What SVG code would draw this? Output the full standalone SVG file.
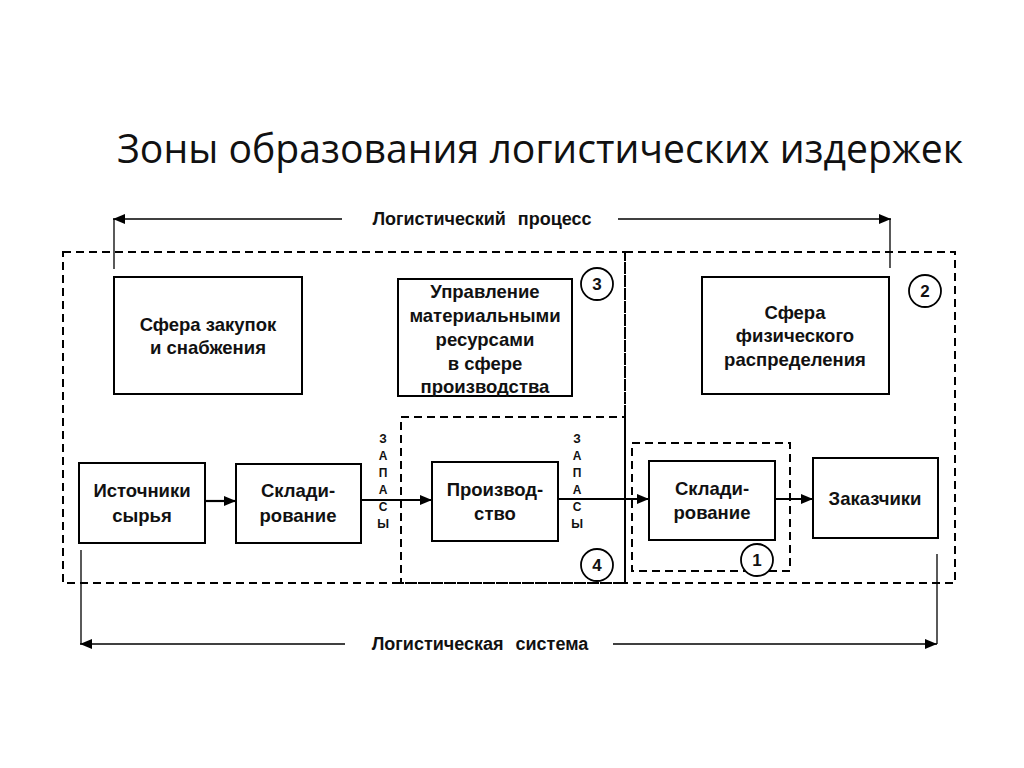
<svg xmlns="http://www.w3.org/2000/svg" width="1024" height="768" viewBox="0 0 1024 768">
<defs>
<marker id="ah" viewBox="0 0 12 10" refX="12" refY="5" markerWidth="12" markerHeight="10" markerUnits="userSpaceOnUse" orient="auto">
<path d="M0,0 L12,5 L0,10 Z" fill="#000"/>
</marker>
<style>
.box{fill:#fff;stroke:#000;stroke-width:2}
.zone{fill:none;stroke:#000;stroke-width:2;stroke-dasharray:8 5}
.lbl{font-family:"Liberation Sans",Arial,sans-serif;font-weight:bold;font-size:18.5px;fill:#111;text-anchor:middle}
.cap{font-family:"Liberation Sans",Arial,sans-serif;font-weight:bold;font-size:18px;fill:#111;text-anchor:middle;word-spacing:7px}
.zap{font-family:"Liberation Sans",Arial,sans-serif;font-weight:bold;font-size:12px;fill:#111;text-anchor:middle}
.num{font-family:"Liberation Sans",Arial,sans-serif;font-weight:bold;font-size:17px;fill:#111;text-anchor:middle}
.ln{fill:none;stroke:#000;stroke-width:1.3}
.fl{fill:none;stroke:#000;stroke-width:2.2}
.circ{fill:#fff;stroke:#000;stroke-width:1.8}
</style>
</defs>
<rect width="1024" height="768" fill="#fff"/>
<text x="540" y="163" font-family="'Open Sans','Liberation Sans',sans-serif" font-size="41" fill="#111" text-anchor="middle" textLength="846" lengthAdjust="spacingAndGlyphs">Зоны образования логистических издержек</text>

<g id="zones">
<rect id="zone3" class="zone" x="63" y="252" width="562" height="331"/>
<rect id="zone2" class="zone" x="625" y="252" width="330" height="331"/>
<rect id="zone4" class="zone" x="401" y="417" width="224" height="166"/>
<rect id="zone1" class="zone" x="632" y="443" width="158" height="128"/>
</g>

<g id="connectors">
<polyline class="ln" points="114,269 114,219"/>
<line class="ln" x1="342" y1="219" x2="113" y2="219" marker-end="url(#ah)"/>
<polyline class="ln" points="890,219 890,268"/>
<line class="ln" x1="618" y1="219" x2="891" y2="219" marker-end="url(#ah)"/>
<text class="cap" x="482" y="225">Логистический процесс</text>
<polyline class="ln" points="81,550 81,644"/>
<line class="ln" x1="345" y1="644" x2="80" y2="644" marker-end="url(#ah)"/>
<polyline class="ln" points="937,554 937,644"/>
<line class="ln" x1="613" y1="644" x2="937" y2="644" marker-end="url(#ah)"/>
<text class="cap" x="480" y="650">Логистическая система</text>
<line class="fl" x1="205" y1="501" x2="236" y2="501" marker-end="url(#ah)"/>
<line class="fl" x1="361" y1="500" x2="432" y2="500" marker-end="url(#ah)"/>
<line class="fl" x1="558" y1="499" x2="649" y2="499" marker-end="url(#ah)"/>
<line class="fl" x1="775" y1="499" x2="813" y2="499" marker-end="url(#ah)"/>
<g class="zap">
<text x="383" y="443">З</text><text x="383" y="460">А</text><text x="383" y="477">П</text><text x="383" y="494">А</text><text x="383" y="511">С</text><text x="383" y="528">Ы</text>
<text x="577" y="443">З</text><text x="577" y="460">А</text><text x="577" y="477">П</text><text x="577" y="494">А</text><text x="577" y="511">С</text><text x="577" y="528">Ы</text>
</g>
</g>

<g id="n-zakupki">
<rect class="box" x="114" y="277" width="188" height="117"/>
<text class="lbl" x="208" y="331">Сфера закупок</text>
<text class="lbl" x="208" y="354">и снабжения</text>
</g>
<g id="n-upravlenie">
<rect class="box" x="398" y="279" width="174" height="117"/>
<text class="lbl" x="485" y="298">Управление</text>
<text class="lbl" x="485" y="322">материальными</text>
<text class="lbl" x="485" y="346">ресурсами</text>
<text class="lbl" x="485" y="370">в сфере</text>
<text class="lbl" x="485" y="393">производства</text>
</g>
<g id="n-raspredelenie">
<rect class="box" x="702" y="277" width="187" height="117"/>
<text class="lbl" x="795" y="319">Сфера</text>
<text class="lbl" x="795" y="342">физического</text>
<text class="lbl" x="795" y="366">распределения</text>
</g>
<g id="n-istochniki">
<rect class="box" x="79" y="463" width="126" height="80"/>
<text class="lbl" x="142" y="497">Источники</text>
<text class="lbl" x="142" y="522">сырья</text>
</g>
<g id="n-sklad1">
<rect class="box" x="236" y="464" width="125" height="79"/>
<text class="lbl" x="298" y="497">Склади-</text>
<text class="lbl" x="298" y="522">рование</text>
</g>
<g id="n-proizvodstvo">
<rect class="box" x="432" y="462" width="126" height="79"/>
<text class="lbl" x="495" y="496">Производ-</text>
<text class="lbl" x="495" y="520">ство</text>
</g>
<g id="n-sklad2">
<rect class="box" x="649" y="461" width="126" height="79"/>
<text class="lbl" x="712" y="495">Склади-</text>
<text class="lbl" x="712" y="519">рование</text>
</g>
<g id="n-zakazchiki">
<rect class="box" x="813" y="458" width="125" height="80"/>
<text class="lbl" x="875" y="505">Заказчики</text>
</g>

<g id="c3"><circle class="circ" cx="597" cy="284" r="16"/><text class="num" x="597" y="290">3</text></g>
<g id="c2"><circle class="circ" cx="925" cy="291" r="16"/><text class="num" x="925" y="297">2</text></g>
<g id="c4"><circle class="circ" cx="597" cy="565" r="16"/><text class="num" x="597" y="571">4</text></g>
<g id="c1"><circle class="circ" cx="757" cy="560" r="16"/><text class="num" x="757" y="566">1</text></g>
</svg>
